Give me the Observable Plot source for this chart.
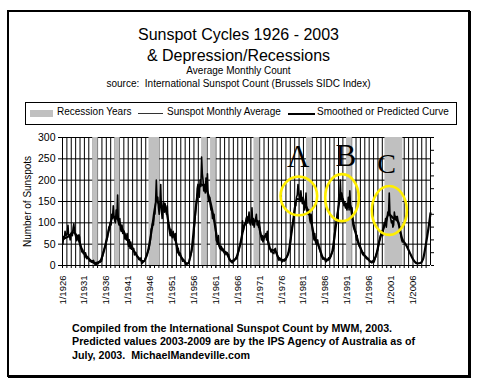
<!DOCTYPE html>
<html>
<head>
<meta charset="utf-8">
<script src="https://cdn.jsdelivr.net/npm/d3@7"></script>
<script src="https://cdn.jsdelivr.net/npm/@observablehq/plot@0.6"></script>
<style>
  html, body { margin: 0; padding: 0; background: #fff; }
  body { width: 480px; height: 388px; position: relative; overflow: hidden; font-family: "Liberation Sans", Arial, sans-serif; color: #000; }
  #box { position: absolute; left: 7px; top: 10px; width: 459px; height: 363px; border: 2px solid #000; box-shadow: 1px 1px 0 #000; }
  .t { position: absolute; left: 0; width: 477px; text-align: center; white-space: pre; }
  .lg { position: absolute; font-size: 10px; line-height: 10px; white-space: pre; top: 106.5px; }
  #legend { position: absolute; left: 25px; top: 102px; width: 430px; height: 21px; border: 1px solid #000; }
  #caption { position: absolute; left: 72px; top: 321.5px; font-size: 10.7px; line-height: 13.5px; font-weight: bold; white-space: pre; }
  #chart { position: absolute; left: 0; top: 128px; }
</style>
</head>
<body>
<div id="box"></div>
<div class="t" style="top:27px;font-size:16px;line-height:16px">Sunspot Cycles 1926 - 2003</div>
<div class="t" style="top:48px;font-size:16px;line-height:16px">&amp; Depression/Recessions</div>
<div class="t" style="top:65.5px;font-size:10px;line-height:10px">Average Monthly Count</div>
<div class="t" style="top:79px;font-size:10px;line-height:10px">source:  International Sunspot Count (Brussels SIDC Index)</div>
<div id="legend"></div>
<div style="position:absolute;left:30px;top:110px;width:23px;height:6.5px;background:#c0c0c0"></div>
<div class="lg" style="left:57px">Recession Years</div>
<div style="position:absolute;left:138px;top:113px;width:25px;height:1px;background:#333"></div>
<div class="lg" style="left:167px">Sunspot Monthly Average</div>
<div style="position:absolute;left:288px;top:112.5px;width:27px;height:2px;background:#000"></div>
<div class="lg" style="left:317px">Smoothed or Predicted Curve</div>
<div id="chart"></div>
<div id="caption">Compiled from the International Sunspot Count by MWM, 2003.
Predicted values 2003-2009 are by the IPS Agency of Australia as of
July, 2003.  MichaelMandeville.com</div>
<script>
// ---- data ----
const startYear = 1926;       // first value is Jan-Feb 1926, one value per two months
const monthlyAvg = [
  50, 68, 62, 80, 70, 72,      // 1926
  75, 94, 68, 72, 60, 74,      // 1927
  78, 70, 88, 98, 80, 72,      // 1928
  65, 58, 70, 62, 72, 66,      // 1929
  48, 40, 32, 38, 28, 30,      // 1930
  18, 30, 22, 16, 20, 18,      // 1931
  14, 10, 12, 8, 11, 9,        // 1932
  12, 5, 3, 4, 2, 6,           // 1933
  4, 6, 10, 8, 12, 10,         // 1934
  20, 28, 34, 40, 45, 50,      // 1935
  60, 65, 78, 90, 85, 100,     // 1936
  95, 120, 110, 140, 115, 105, // 1937
  100, 130, 110, 165, 100, 95, // 1938
  110, 85, 80, 95, 75, 80,     // 1939
  80, 62, 70, 60, 75, 55,      // 1940
  45, 60, 40, 55, 38, 45,      // 1941
  35, 40, 25, 28, 30, 22,      // 1942
  20, 18, 14, 16, 12, 18,      // 1943
  4, 6, 8, 10, 12, 18,         // 1944
  20, 25, 30, 35, 40, 50,      // 1945
  60, 85, 90, 100, 95, 120,    // 1946
  120, 150, 200, 150, 160, 135,// 1947
  120, 145, 190, 130, 110, 140,// 1948
  150, 125, 145, 130, 120, 140,// 1949
  100, 95, 80, 70, 85, 70,     // 1950
  65, 80, 70, 60, 75, 55,      // 1951
  35, 30, 40, 25, 30, 28,      // 1952
  20, 15, 10, 14, 12, 10,      // 1953
  1, 3, 5, 4, 6, 8,            // 1954
  20, 25, 30, 40, 50, 65,      // 1955
  90, 110, 130, 150, 180, 190, // 1956
  170, 160, 200, 185, 254, 215,// 1957
  200, 175, 190, 170, 205, 175,// 1958
  215, 160, 150, 160, 140, 130,// 1959
  130, 110, 115, 120, 100, 95, // 1960
  60, 55, 50, 70, 45, 40,      // 1961
  38, 45, 35, 40, 32, 30,      // 1962
  25, 32, 28, 30, 24, 26,      // 1963
  15, 12, 9, 8, 6, 10,         // 1964
  10, 12, 15, 18, 16, 20,      // 1965
  30, 35, 45, 50, 55, 65,      // 1966
  105, 80, 90, 95, 100, 110,   // 1967
  115, 100, 110, 125, 100, 95, // 1968
  105, 135, 95, 110, 90, 100,  // 1969
  110, 120, 95, 100, 90, 105,  // 1970
  85, 70, 60, 70, 55, 60,      // 1971
  65, 70, 75, 60, 80, 55,      // 1972
  45, 40, 38, 32, 35, 30,      // 1973
  30, 28, 38, 40, 32, 30,      // 1974
  20, 15, 12, 18, 14, 12,      // 1975
  8, 12, 14, 10, 15, 12,       // 1976
  18, 22, 25, 30, 35, 38,      // 1977
  60, 80, 90, 100, 110, 120,   // 1978
  150, 140, 160, 165, 190, 170,// 1979
  160, 150, 175, 155, 145, 160,// 1980
  150, 130, 140, 170, 130, 125,// 1981
  120, 130, 110, 100, 120, 105,// 1982
  80, 70, 60, 75, 55, 50,      // 1983
  55, 60, 45, 40, 35, 30,      // 1984
  22, 20, 15, 18, 14, 16,      // 1985
  8, 10, 14, 12, 18, 15,       // 1986
  18, 22, 28, 32, 35, 40,      // 1987
  70, 90, 100, 105, 120, 130,  // 1988
  165, 150, 200, 155, 170, 160,// 1989
  155, 140, 150, 135, 145, 130,// 1990
  140, 160, 130, 175, 140, 135,// 1991
  135, 100, 90, 85, 80, 80,    // 1992
  60, 70, 55, 50, 45, 48,      // 1993
  40, 35, 28, 25, 30, 22,      // 1994
  22, 18, 16, 15, 17, 14,      // 1995
  10, 8, 9, 6, 8, 10,          // 1996
  8, 12, 18, 25, 30, 35,       // 1997
  45, 55, 60, 70, 75, 80,      // 1998
  70, 85, 100, 95, 110, 90,    // 1999
  110, 125, 120, 170, 120, 110,// 2000
  100, 105, 90, 95, 125, 110,  // 2001
  115, 110, 115, 105, 100, 90, // 2002
  80, 70, 60, 55               // 2003
];
const smoothYears = [1926.5,1927.5,1928.5,1929.5,1930.5,1931.5,1932.5,1933.5,1934.5,1935.5,1936.5,1937.5,1938.5,1939.5,1940.5,1941.5,1942.5,1943.5,1944.5,1945.5,1946.5,1947.5,1948.5,1949.5,1950.5,1951.5,1952.5,1953.5,1954.5,1955.5,1956.5,1957.5,1958.5,1959.5,1960.5,1961.5,1962.5,1963.5,1964.5,1965.5,1966.5,1967.5,1968.5,1969.5,1970.5,1971.5,1972.5,1973.5,1974.5,1975.5,1976.5,1977.5,1978.5,1979.5,1980.5,1981.5,1982.5,1983.5,1984.5,1985.5,1986.5,1987.5,1988.5,1989.5,1990.5,1991.5,1992.5,1993.5,1994.5,1995.5,1996.5,1997.5,1998.5,1999.5,2000.5,2001.5,2002.5,2003.5];
const smoothValues = [63.9,69.0,77.8,65.0,35.7,21.2,11.1,5.7,8.7,36.1,79.7,114.4,109.6,88.8,67.8,47.5,30.6,16.3,9.6,33.2,92.6,151.6,136.3,134.7,83.9,69.4,31.5,13.9,4.4,38.0,141.7,190.2,184.8,159.0,112.3,53.9,37.6,27.9,10.2,15.1,47.0,93.8,105.9,105.5,104.5,66.6,68.9,38.0,34.5,15.5,12.6,27.5,92.5,155.4,154.6,140.4,115.9,66.6,45.9,17.9,13.4,29.4,100.2,157.6,142.6,145.7,94.3,54.6,29.9,17.5,8.6,21.5,64.3,93.3,119.6,111.0,104.0,63.7];
const predictYears  = [2004.5, 2005.5, 2006.3, 2007.0, 2007.7, 2008.3, 2008.9, 2009.5, 2010.0];
const predictValues = [47, 25, 10, 5, 6, 15, 47, 85, 123];
const recessionStart = [1932.9, 1937.95, 1945.75, 1957.75, 1959.8, 1969.7, 1981.7, 1990.85, 1999.6];
const recessionEnd   = [1934.15, 1939.15, 1948.15, 1959.05, 1961.1, 1971.05, 1983.0, 1992.15, 2003.7];
const labelYears = [1926,1931,1936,1941,1946,1951,1956,1961,1966,1971,1976,1981,1986,1991,1996,2001,2006];
const yTicks = [0, 50, 100, 150, 200, 250, 300];
const rightTicks = [0, 30, 60, 90, 120, 150, 180, 210, 240, 270, 300];
const markLetters = ["A", "B", "C"];
const letterYears = [1979.8, 1990.7, 2000.0];
const letterValues = [231, 234, 217];
const circleYears = [1979.95, 1989.8, 2000.6];
const circleValues = [163, 159, 129];
const xDomain = [1926, 2010];
const yDomain = [0, 300];

// ---- tables ----
const monthly = monthlyAvg.map((v, i) => ({t: startYear + (2 * i + 1) / 12, v}));
const smooth = smoothYears.map((t, i) => ({t, v: smoothValues[i]}))
  .concat(predictYears.map((t, i) => ({t, v: predictValues[i]})));
const bands = recessionStart.map((s, i) => ({s, e: recessionEnd[i]}));
const letters = markLetters.map((k, i) => ({k, t: letterYears[i], v: letterValues[i]}));
const circles = markLetters.map((k, i) => ({k, t: circleYears[i], v: circleValues[i]}));
const gridYears = d3.range(xDomain[0], xDomain[1]);

function ellipseSymbol(rx, ry) {
  const k = 0.5523;
  return {draw(c) {
    c.moveTo(rx, 0);
    c.bezierCurveTo(rx, k * ry, k * rx, ry, 0, ry);
    c.bezierCurveTo(-k * rx, ry, -rx, k * ry, -rx, 0);
    c.bezierCurveTo(-rx, -k * ry, -k * rx, -ry, 0, -ry);
    c.bezierCurveTo(k * rx, -ry, rx, -k * ry, rx, 0);
    c.closePath();
  }};
}
const ellSize = [[18.3, 19.3], [16.8, 23.5], [17.5, 24.4]];

const chart = Plot.plot({
  width: 480,
  height: 182,
  marginLeft: 62,
  marginRight: 50,
  marginTop: 9,
  marginBottom: 45,
  style: {fontFamily: "Liberation Sans, Arial, sans-serif", fontSize: "10.5px", background: "transparent", overflow: "visible"},
  x: {domain: xDomain, axis: null},
  y: {domain: yDomain, axis: null},
  marks: [
    Plot.gridX({ticks: gridYears, stroke: "#000", strokeOpacity: 1, strokeWidth: 1}),
    Plot.gridY({ticks: yTicks, stroke: "#000", strokeOpacity: 1, strokeWidth: 1}),
    Plot.rect(bands, {x1: "s", x2: "e", fill: "#c0c0c0"}),
    Plot.line(monthly, {x: "t", y: "v", stroke: "#000", strokeWidth: 1.6}),
    Plot.line(smooth, {x: "t", y: "v", stroke: "#000", strokeWidth: 2.2, curve: "monotone-x"}),
    Plot.ruleX([xDomain[0]], {stroke: "#000"}),
    Plot.ruleX([xDomain[1]], {stroke: "#000"}),
    Plot.ruleY([0], {stroke: "#000"}),
    Plot.axisY({ticks: yTicks, anchor: "left", tickSize: 4, tickPadding: 3, label: null, fontSize: 10.5}),
    Plot.axisY({ticks: rightTicks, anchor: "right", tickSize: 3, tickFormat: () => "", label: null}),
    Plot.axisX({ticks: gridYears, anchor: "bottom", tickSize: 3, tickFormat: () => "", label: null}),
    Plot.axisX({ticks: labelYears, anchor: "bottom", tickSize: 3, tickPadding: 7, tickRotate: -90,
      tickFormat: d => `1/${d}`, label: null, fontSize: 9.5}),
    Plot.text(["Number of Sunspots"], {frameAnchor: "left", textAnchor: "middle", lineAnchor: "middle", dx: -35, rotate: -90, fontSize: 10, text: d => d}),
    ...circles.map((c, i) => Plot.dot([c], {x: "t", y: "v", symbol: ellipseSymbol(ellSize[i][0], ellSize[i][1]),
      fill: "none", stroke: "#ffee00", strokeWidth: 2.6})),
    Plot.text(letters, {x: "t", y: "v", text: "k", lineAnchor: "bottom", fontFamily: "Liberation Serif, Times New Roman, serif",
      fontSize: d => d.k === "C" ? 28 : 31, fill: "#000"})
  ]
});
document.getElementById("chart").appendChild(chart);
</script>
</body>
</html>
